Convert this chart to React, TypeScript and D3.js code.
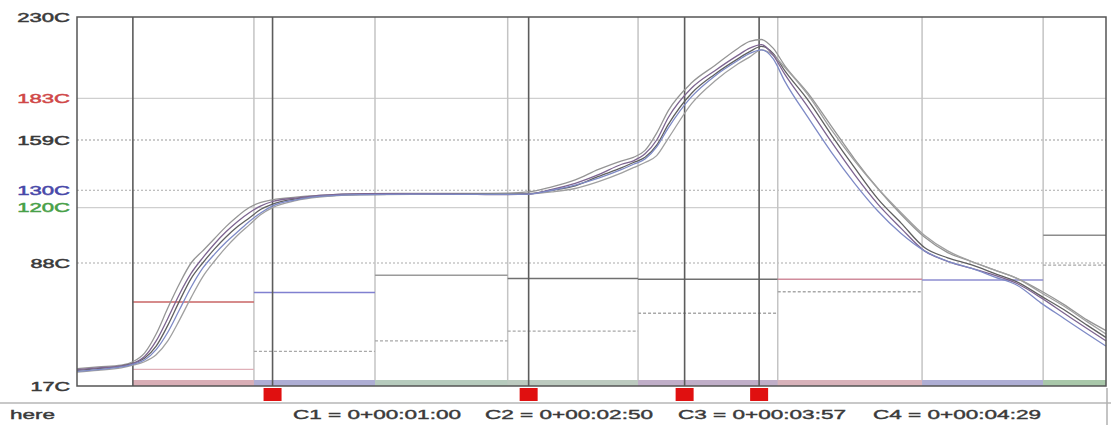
import React, { useMemo } from 'react'
import * as d3 from 'd3'

// time in seconds relative to board entering zone 1
const times = [-24, -15, -5, 0, 5, 10, 15, 20, 25, 30, 35, 40, 45, 50, 55, 60, 70, 80, 100, 120, 140, 160, 170, 180, 190, 200, 210, 215, 220, 225, 230, 240, 250, 260, 265, 270, 275, 280, 290, 300, 310, 320, 330, 340, 350, 360, 370, 380, 390, 400, 410, 418]

const probeA = [27, 28, 29, 31, 36, 47, 62, 76, 88, 95, 102, 109, 115, 120, 123, 124.5, 126, 127, 128, 128.2, 128.2, 128.3, 129, 132, 136, 142, 147, 149, 153, 163, 176, 192, 202, 212, 216, 217, 212, 202, 186, 167, 148, 131, 116, 103, 94, 89, 84, 79, 72, 64, 55, 49]
const probeB = [26, 27, 28.5, 30, 33, 40, 52, 66, 79, 88, 96, 103, 109, 114, 119, 122, 125, 126.5, 127.5, 127.8, 127.8, 127.8, 128, 130, 132.5, 138, 143, 146, 149, 156, 168, 186, 197, 206, 210, 213, 209, 199, 182, 162, 143, 125, 111, 97, 91, 87, 82, 77, 69, 61, 52, 45]
const probeC = [25, 26, 27.5, 29, 31, 35, 43, 55, 68, 80, 89, 97, 104, 110, 116, 120, 124, 126, 127.5, 127.6, 127.6, 127.6, 127.8, 129, 131, 135, 140, 143, 146, 150, 160, 180, 193, 203, 207, 211, 208, 201, 185, 165, 147, 131, 117, 104, 95, 89, 84, 79, 71, 63, 54, 47]
const probeD = [26.5, 27.5, 28.5, 30, 34, 43, 56, 70, 82, 91, 99, 106, 112, 117, 121, 123.5, 125.5, 127, 128, 128, 127.8, 127.5, 127.8, 130.5, 134, 139, 145, 147, 151, 159, 172, 189, 199, 208, 212, 214, 208, 197, 178, 158, 139, 122, 108, 95, 89, 85, 81, 76, 68, 59, 50, 43]
const probeE = [25.5, 26.5, 28, 29.5, 32, 38, 48, 61, 74, 85, 93, 100, 106, 112, 117, 121, 124.5, 126.5, 127.5, 127.8, 127.6, 127.6, 127.8, 130, 133, 137, 142, 145, 148, 155, 166, 184, 196, 205, 209, 211, 206, 193, 172, 152, 134, 118, 105, 95, 89, 85, 80, 75, 65, 56, 47, 40]

const probes = [probeA, probeB, probeC, probeD, probeE]

// oven zones (seconds) and their setpoint traces
const zoneEdges = [0, 52, 104, 161, 217, 277, 339, 391, 418]
const upperSet = [65.5, 71, 81, 79, 78.6, 78.6, 78.2, 104]
const lowerSet = [26.6, 37, 43, 48.7, 59, 71.4, null, 86.8]

// cursors
const cursorTimes = [60, 170, 237, 269]
const cursorLabels = ['C1 = 0+00:01:00', 'C2 = 0+00:02:50', 'C3 = 0+00:03:57', 'C4 = 0+00:04:29']

// y axis ticks
const tickValues = [230, 183, 159, 130, 120, 88, 17]
const tickLabels = ['230C', '183C', '159C', '130C', '120C', '88C', '17C']

const tickColors = ['#3a3a3a', '#d04848', '#3a3a3a', '#4848a8', '#48a048', '#3a3a3a', '#3a3a3a']
const gridStyles: Record<number, { stroke: string, dash?: string }> = {
    183: { stroke: '#cfcfcf' },
    159: { stroke: '#9a9a9a', dash: '2,2' },
    130: { stroke: '#aaaaaa', dash: '2,2' },
    120: { stroke: '#cfcfcf' },
    88: { stroke: '#aaaaaa', dash: '2,2' },
}
const probeColors = ['#959595', '#606060', '#a0a0a0', '#7d6490', '#7e8ac6']
const upperColors = ['#c86464', '#8080d0', '#9a9a9a', '#707070', '#707070', '#d08c9c', '#8c8cd0', '#8c8c8c']
const bandColors = ['#d9aeb6', '#aeaed4', '#b6cbbd', '#bccabf', '#c0aec8', '#d8b2ba', '#aeaed4', '#a9c8aa']

const font = '"Liberation Sans", Arial, sans-serif'

export default function App() {
    const width = 1111
    const height = 425
    const left = 77
    const right = 1106
    const top = 17
    const bottom = 386

    const xScale = useMemo(() => d3.scaleLinear().domain([-24, 418]).range([left, right]), [])
    const yScale = useMemo(() => d3.scaleLinear().domain([17, 230]).range([bottom, top]), [])

    const line = useMemo(() => (
        d3.line<number>()
            .x((_, i) => xScale(times[i]))
            .y(d => yScale(d))
            .curve(d3.curveMonotoneX)
    ), [xScale, yScale])

    const zones = zoneEdges.slice(0, -1).map((t0, i) => ({ t0, t1: zoneEdges[i + 1], i }))

    return (
        <svg width={width} height={height} style={{ position: 'absolute', left: 0, top: 0, background: '#fff' }}>
            {/* horizontal grid */}
            {tickValues.filter(v => gridStyles[v]).map(v => (
                <line key={v} x1={left} x2={right} y1={yScale(v)} y2={yScale(v)}
                    stroke={gridStyles[v].stroke} strokeDasharray={gridStyles[v].dash} strokeWidth={1.2} />
            ))}

            {/* zone boundaries */}
            {zoneEdges.slice(1, -1).map(t => (
                <line key={t} x1={xScale(t)} x2={xScale(t)} y1={top} y2={bottom} stroke="#c4c4c4" strokeWidth={1.5} />
            ))}

            {/* setpoint steps */}
            {zones.map(z => (
                <g key={z.i}>
                    <line x1={xScale(z.t0)} x2={xScale(z.t1)} y1={yScale(upperSet[z.i])} y2={yScale(upperSet[z.i])}
                        stroke={upperColors[z.i]} strokeWidth={1.5} />
                    {lowerSet[z.i] !== null && (
                        <line x1={xScale(z.t0)} x2={xScale(z.t1)} y1={yScale(lowerSet[z.i] as number)} y2={yScale(lowerSet[z.i] as number)}
                            stroke={z.i === 0 ? '#e0b0b8' : '#a8a8a8'} strokeDasharray={z.i === 0 ? undefined : '3,2'} strokeWidth={1.3} />
                    )}
                </g>
            ))}

            {/* bottom zone band */}
            {zones.map(z => (
                <rect key={z.i} x={xScale(z.t0)} width={xScale(z.t1) - xScale(z.t0)} y={bottom - 6} height={6} fill={bandColors[z.i]} />
            ))}

            {/* entry line and cursors */}
            {[0, ...cursorTimes].map(t => (
                <line key={t} x1={xScale(t)} x2={xScale(t)} y1={top} y2={bottom} stroke="#5c5c5c" strokeWidth={1.6} />
            ))}

            {/* probe traces */}
            {probes.map((p, i) => (
                <path key={i} d={line(p) || ''} fill="none" stroke={probeColors[i]} strokeWidth={1.3} />
            ))}

            {/* plot frame */}
            <rect x={left} y={top} width={right - left} height={bottom - top} fill="none" stroke="#555" strokeWidth={1.5} />

            {/* y labels */}
            {tickValues.map((v, i) => (
                <text key={v} x={70} y={yScale(v)} dy="0.35em" textAnchor="end" fontFamily={font} fontSize={13}
                    fill={tickColors[i]} stroke={tickColors[i]} strokeWidth={0.5}
                    textLength={tickLabels[i].length * 13.2} lengthAdjust="spacingAndGlyphs">
                    {tickLabels[i]}
                </text>
            ))}

            {/* cursor markers */}
            {cursorTimes.map(t => (
                <rect key={t} x={xScale(t) - 9} y={388} width={18} height={13} fill="#e01010" />
            ))}

            {/* status bar */}
            <line x1={0} x2={width} y1={403} y2={403} stroke="#c8c8c8" strokeWidth={2} />
            <line x1={1107} x2={1107} y1={388} y2={height} stroke="#b0b0b0" strokeWidth={1.5} />
            <text x={10} y={419} fontFamily={font} fontSize={13} fill="#3a3a3a" stroke="#3a3a3a" strokeWidth={0.4}
                textLength={45} lengthAdjust="spacingAndGlyphs">here</text>
            {cursorLabels.map((c, i) => (
                <text key={c} x={[293, 485, 678, 873][i]} y={419} fontFamily={font} fontSize={13} fill="#3a3a3a"
                    stroke="#3a3a3a" strokeWidth={0.4} textLength={168} lengthAdjust="spacingAndGlyphs">{c}</text>
            ))}
        </svg>
    )
}
